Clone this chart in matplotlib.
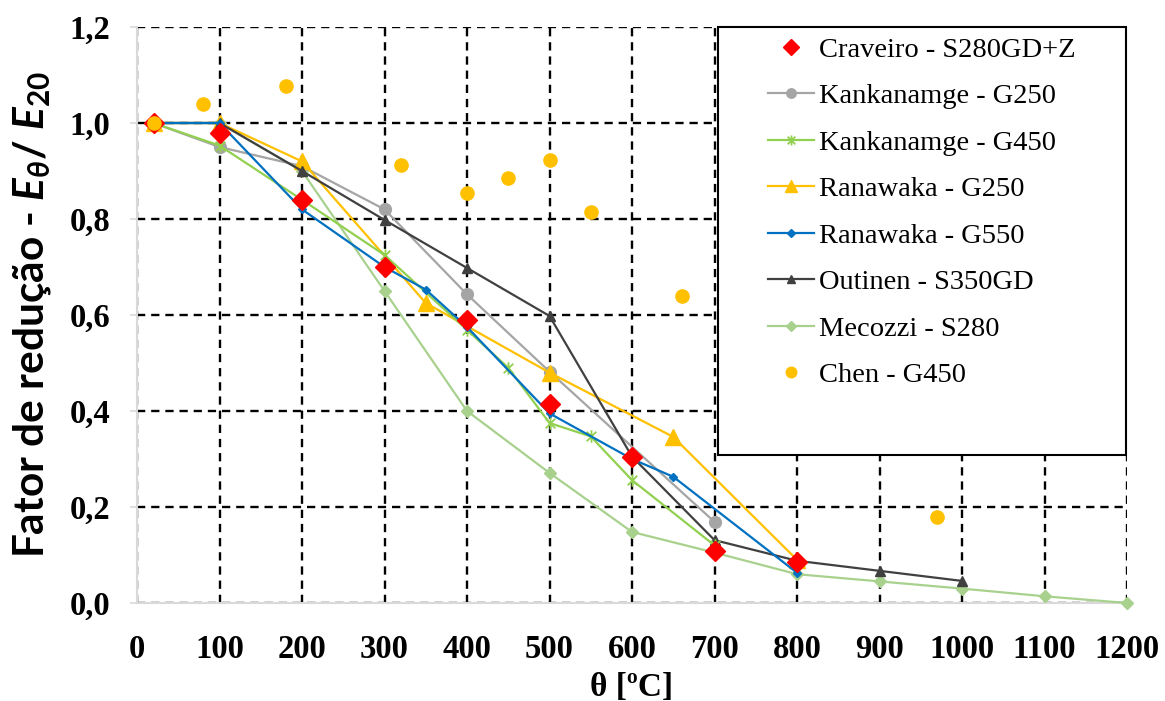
import matplotlib.pyplot as plt
from matplotlib.patches import Rectangle
from matplotlib.path import Path

plt.rcParams["mathtext.fontset"] = "custom"
plt.rcParams["mathtext.rm"] = "Lato:bold"
plt.rcParams["mathtext.it"] = "Lato:bold:italic"
plt.rcParams["mathtext.bf"] = "Lato:bold"

# valores (temperatura em ºC, fator de redução E_theta/E_20)
craveiro_t = [20, 100, 200, 300, 400, 500, 600, 700, 800]
craveiro_e = [1.0, 0.98, 0.84, 0.70, 0.59, 0.415, 0.305, 0.108, 0.085]

kank250_t = [20, 100, 200, 300, 400, 500, 700]
kank250_e = [1.0, 0.95, 0.91, 0.82, 0.643, 0.482, 0.169]

kank450_t = [20, 100, 200, 300, 400, 450, 500, 550, 600, 700]
kank450_e = [1.0, 0.953, 0.84, 0.725, 0.569, 0.49, 0.375, 0.347, 0.256, 0.12]

ran250_t = [20, 100, 200, 350, 500, 650, 800]
ran250_e = [1.0, 1.0, 0.92, 0.625, 0.48, 0.346, 0.09]

ran550_t = [20, 100, 200, 300, 350, 400, 500, 600, 650, 800]
ran550_e = [1.0, 1.0, 0.82, 0.70, 0.653, 0.575, 0.395, 0.30, 0.263, 0.063]

outinen_t = [20, 100, 200, 300, 400, 500, 600, 700, 800, 900, 1000]
outinen_e = [1.0, 1.0, 0.90, 0.798, 0.698, 0.598, 0.305, 0.131, 0.088, 0.067, 0.046]

mecozzi_t = [20, 100, 200, 300, 400, 500, 600, 700, 800, 900, 1000, 1100, 1200]
mecozzi_e = [1.0, 1.0, 0.90, 0.65, 0.40, 0.271, 0.148, 0.105, 0.06, 0.045, 0.03, 0.014, 0.0]

chen_t = [20, 80, 180, 320, 400, 450, 500, 550, 660, 970]
chen_e = [1.0, 1.04, 1.077, 0.912, 0.854, 0.885, 0.923, 0.815, 0.64, 0.18]

x_ticks = [0, 100, 200, 300, 400, 500, 600, 700, 800, 900, 1000, 1100, 1200]
y_ticks = [0.0, 0.2, 0.4, 0.6, 0.8, 1.0, 1.2]
y_tick_labels = ["0,0", "0,2", "0,4", "0,6", "0,8", "1,0", "1,2"]

# marcador "estrela" do Excel: um x com traço vertical
star = Path(
    [(-1, -1), (1, 1), (-1, 1), (1, -1), (0, -1.3), (0, 1.3)],
    [Path.MOVETO, Path.LINETO, Path.MOVETO, Path.LINETO, Path.MOVETO, Path.LINETO],
)


def main() -> None:
    fig = plt.figure(figsize=(11.65, 7.01), dpi=100)
    ax = fig.add_axes([137 / 1165, 1 - 603 / 701, 990 / 1165, 576 / 701])

    ax.plot(craveiro_t, craveiro_e, ls="none", marker="D", ms=10.5,
            color="#FF0000", zorder=8, label="Craveiro - S280GD+Z")
    ax.plot(kank250_t, kank250_e, lw=1.6, marker="o", ms=8.5,
            color="#A5A5A5", zorder=4, label="Kankanamge - G250")
    ax.plot(kank450_t, kank450_e, lw=1.6, marker=star, ms=9, mew=1.3,
            mfc="none", color="#92D050", zorder=5, label="Kankanamge - G450")
    ax.plot(ran250_t, ran250_e, lw=1.6, marker="^", ms=11,
            color="#FFC000", zorder=4, label="Ranawaka - G250")
    ax.plot(ran550_t, ran550_e, lw=1.6, marker="D", ms=4.5,
            color="#0070C0", zorder=5, label="Ranawaka - G550")
    ax.plot(outinen_t, outinen_e, lw=1.6, marker="^", ms=7,
            color="#404040", zorder=4, label="Outinen - S350GD")
    ax.plot(mecozzi_t, mecozzi_e, lw=1.6, marker="D", ms=6.5,
            color="#A9D18E", zorder=3, label="Mecozzi - S280", clip_on=False)
    ax.plot(chen_t, chen_e, ls="none", marker="o", ms=9.5,
            color="#FFC000", zorder=9, label="Chen - G450")

    ax.set_xlim(0, 1200)
    ax.set_ylim(0, 1.2)
    ax.set_xticks(x_ticks)
    ax.set_yticks(y_ticks)
    ax.set_yticklabels(y_tick_labels)
    for lab in ax.get_xticklabels() + ax.get_yticklabels():
        lab.set_fontfamily("Liberation Serif")
        lab.set_fontweight("bold")
        lab.set_fontsize(23.5)
    ax.tick_params(axis="x", length=0, pad=22)
    ax.tick_params(axis="y", length=5, color="#D9D9D9", width=1.2, pad=14)

    ax.set_axisbelow(True)
    ax.grid(True, color="black", lw=1.7, ls=(0, (3.5, 2.5)))
    for side in ("top", "right"):
        ax.spines[side].set_visible(False)
    for side in ("left", "bottom"):
        ax.spines[side].set_color("#D9D9D9")
        ax.spines[side].set_linewidth(1.5)

    ax.set_xlabel("θ [ºC]", fontfamily="Liberation Serif", fontweight="bold",
                  fontsize=24, labelpad=5)
    ax.set_ylabel(r"Fator de redução - $E_\theta$/ $E_{20}$", fontfamily="Lato",
                  fontweight="bold", fontsize=30.5, labelpad=12)

    # moldura branca da legenda desenhada à parte
    ax.add_patch(Rectangle((718 / 1165, 1 - 455 / 701), 408 / 1165, 428 / 701,
                           transform=fig.transFigure, facecolor="white",
                           edgecolor="black", lw=1.5, zorder=20, clip_on=False))
    leg = ax.legend(loc="upper left", bbox_to_anchor=(768 / 1165, 1 - 37 / 701),
                    bbox_transform=fig.transFigure, frameon=False, borderpad=0,
                    borderaxespad=0, handlelength=1.6, handletextpad=0.2,
                    labelspacing=0.72, markerscale=0.8,
                    prop={"family": "Liberation Serif", "size": 20.5})
    leg.set_zorder(30)

    fig.savefig("out.png", dpi=100)


if __name__ == "__main__":
    main()
